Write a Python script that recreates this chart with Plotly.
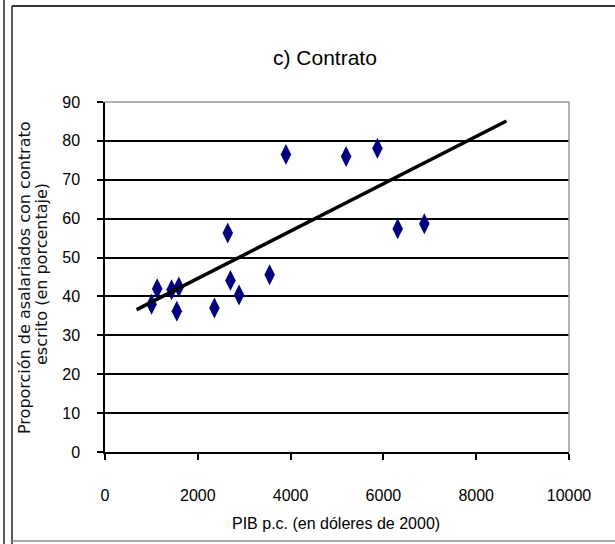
import plotly.graph_objects as go

# Data
pib_pc = [1004, 1125, 1434, 1591, 1548, 2359, 2645, 2703, 2889, 3548, 3900, 5197, 5871, 6308, 6882]
contrato = [38.0, 42.0, 41.7, 42.4, 36.2, 37.0, 56.3, 44.1, 40.4, 45.6, 76.5, 76.0, 78.1, 57.4, 58.7]
trend_x = [681, 8652]
trend_y = [36.6, 85.1]
x_ticks = [0, 2000, 4000, 6000, 8000, 10000]
y_ticks = [0, 10, 20, 30, 40, 50, 60, 70, 80, 90]

W, H = 615, 544
L, R, T, B = 105, 46, 102, 92
pw, ph = W - L - R, H - T - B

def px(x):
    return (x - L) / pw

def py(y):
    return (H - B - y) / ph

narrow = "Liberation Sans Narrow, Arial Narrow, Liberation Sans, Arial, sans-serif"

fig = go.Figure()
fig.add_trace(go.Scatter(
    x=pib_pc, y=contrato, mode="markers",
    marker=dict(symbol="diamond-tall", size=15, color="#000080",
                line=dict(width=0)),
    showlegend=False, hoverinfo="x+y",
))
fig.add_trace(go.Scatter(
    x=trend_x, y=trend_y, mode="lines",
    line=dict(color="black", width=3.5),
    showlegend=False, hoverinfo="skip",
))

fig.update_layout(
    width=W, height=H,
    margin=dict(l=L, r=R, t=T, b=B, autoexpand=False),
    paper_bgcolor="white", plot_bgcolor="white",
    xaxis=dict(
        range=[0, 10000], tickvals=x_ticks, ticktext=[str(v) for v in x_ticks],
        showgrid=False, zeroline=False, showline=True, linecolor="black", linewidth=1.5,
        ticks="outside", ticklen=6, tickcolor="black", tickwidth=1.5,
        ticklabelstandoff=22,
        tickfont=dict(family=narrow, size=16, color="black"),
        fixedrange=True,
    ),
    yaxis=dict(
        range=[0, 90], tickvals=y_ticks, ticktext=[str(v) for v in y_ticks],
        showgrid=True, gridcolor="black", gridwidth=1.5, zeroline=False,
        showline=True, linecolor="black", linewidth=1.5,
        ticks="outside", ticklen=6, tickcolor="black", tickwidth=1.5,
        ticklabelstandoff=14,
        tickfont=dict(family=narrow, size=16, color="black"),
        fixedrange=True,
    ),
    annotations=[
        dict(text="c) Contrato", xref="paper", yref="paper", x=px(325), y=py(57),
             xanchor="center", yanchor="middle", showarrow=False,
             font=dict(family=narrow, size=21, color="black")),
        dict(text="PIB p.c. (en dóleres de 2000)", xref="paper", yref="paper",
             x=px(336), y=py(523), xanchor="center", yanchor="middle", showarrow=False,
             font=dict(family=narrow, size=16, color="black")),
        dict(text="Proporción de asalariados con contrato", xref="paper", yref="paper",
             x=px(24), y=py(278), xanchor="center", yanchor="middle", showarrow=False,
             textangle=-90, font=dict(family="DejaVu Sans, sans-serif", size=16, color="#111111")),
        dict(text="escrito (en porcentaje)", xref="paper", yref="paper",
             x=px(41), y=py(274), xanchor="center", yanchor="middle", showarrow=False,
             textangle=-90, font=dict(family="DejaVu Sans, sans-serif", size=16, color="#111111")),
    ],
    shapes=[
        # plot area border (top and right), gray
        dict(type="line", xref="paper", yref="paper", x0=0, x1=1, y0=1, y1=1,
             line=dict(color="#999999", width=1.5), layer="above"),
        dict(type="line", xref="paper", yref="paper", x0=1, x1=1, y0=0, y1=1,
             line=dict(color="#999999", width=1.5), layer="above"),
        # outer frame lines
        dict(type="line", xref="paper", yref="paper", x0=px(4), x1=px(4), y0=py(0), y1=py(544),
             line=dict(color="#222222", width=1.5)),
        dict(type="line", xref="paper", yref="paper", x0=px(12), x1=px(12), y0=py(6), y1=py(544),
             line=dict(color="#222222", width=1.5)),
        dict(type="line", xref="paper", yref="paper", x0=px(12), x1=px(615), y0=py(6), y1=py(6),
             line=dict(color="#333333", width=2)),
        dict(type="line", xref="paper", yref="paper", x0=px(12), x1=px(615), y0=py(541), y1=py(541),
             line=dict(color="#888888", width=1.5)),
    ],
)

fig.write_html("out.html", config={"displayModeBar": False},
               post_script="document.body.style.margin='0';")
